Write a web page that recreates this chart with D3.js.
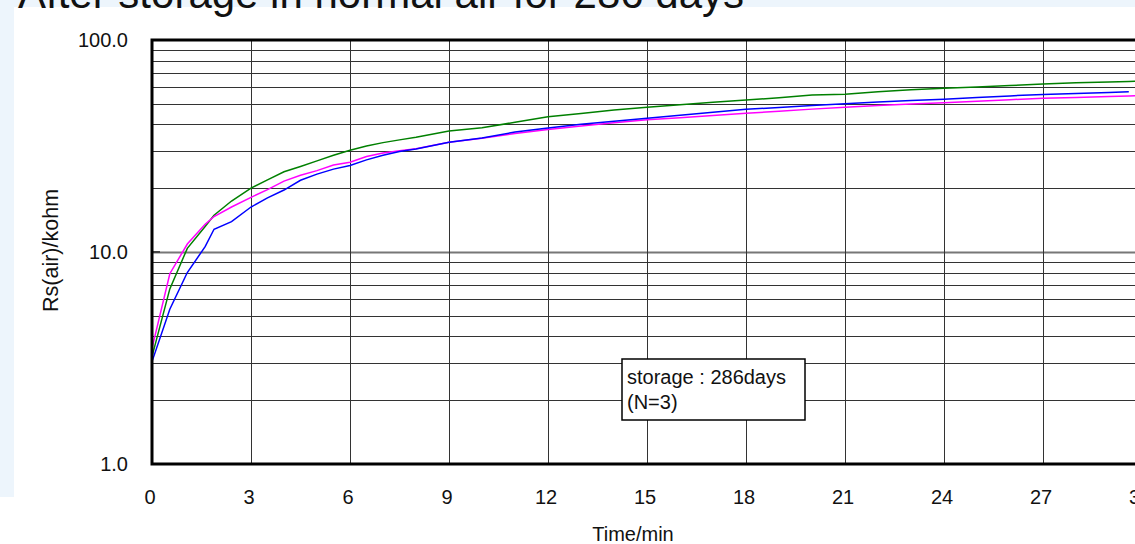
<!DOCTYPE html>
<html><head><meta charset="utf-8">
<script src="https://cdn.jsdelivr.net/npm/d3@7"></script>
<style>html,body{margin:0;padding:0;background:#fff;}svg{display:block;}</style>
</head><body>
<svg id="c" width="1135" height="544"></svg>
<script>
const titleText = "After storage in normal air for 286 days";
const xLabel = "Time/min";
const yLabel = "Rs(air)/kohm";
const legendLines = ["storage : 286days", "(N=3)"];
const xTicks = [0, 3, 6, 9, 12, 15, 18, 21, 24, 27, 30];
const yTicks = [1, 10, 100];
const yTickLabels = ["1.0", "10.0", "100.0"];
const times = [0, 0.54, 1.07, 1.61, 1.88, 2.41, 3, 3.5, 4, 4.5, 5, 5.5, 6, 6.5, 7, 7.5, 8, 9, 10, 11, 12, 13, 14, 15, 16, 17, 18, 19, 20, 21, 22, 23, 24, 25, 26, 27, 28, 29, 29.6, 30.5];
const greenVals = [3.21, 6.7, 10.4, 13.2, 14.9, 17.4, 20.0, 21.9, 23.9, 25.3, 26.9, 28.6, 30.2, 31.6, 32.8, 33.8, 34.8, 37.2, 38.6, 40.9, 43.4, 45.0, 46.7, 48.2, 49.5, 50.8, 52.1, 53.4, 55.0, 55.5, 57.0, 58.2, 59.2, 60.0, 61.0, 62.0, 62.8, 63.4, 63.7, 64.2];
const magentaVals = [3.51, 7.9, 10.9, 13.5, 14.7, 16.3, 18.1, 19.7, 21.6, 23.0, 24.2, 25.7, 26.5, 28.2, 29.3, 30.0, 30.7, 32.9, 34.4, 36.2, 37.8, 39.3, 40.7, 42.0, 43.0, 44.1, 45.1, 46.1, 47.2, 48.2, 49.1, 49.9, 50.6, 51.4, 52.3, 53.1, 53.6, 54.2, 54.5, 54.8];
const blueVals = [3.04, 5.37, 8.0, 10.6, 12.8, 13.9, 16.3, 18.0, 19.6, 21.8, 23.3, 24.6, 25.6, 27.2, 28.6, 29.8, 30.6, 32.9, 34.5, 36.8, 38.5, 40.0, 41.4, 42.7, 44.2, 45.6, 47.1, 48.1, 49.1, 50.1, 51.0, 51.8, 52.5, 53.5, 54.5, 55.4, 56.0, 56.6, 57.0, null];
const seriesColors = ["#008000", "#ff00ff", "#0000ff"];

const svg = d3.select("#c");
const font = "Arial, 'Liberation Sans', sans-serif";

// backgrounds
svg.append("rect").attr("x",0).attr("y",0).attr("width",1135).attr("height",544).attr("fill","#edf5fc");
svg.append("rect").attr("x",14).attr("y",7).attr("width",1121).attr("height",537).attr("fill","#fff");
svg.append("rect").attr("x",0).attr("y",497).attr("width",1135).attr("height",47).attr("fill","#fff");

svg.append("text").attr("x",18).attr("y",8).attr("font-family",font).attr("font-size",42)
  .attr("fill","#111").text(titleText);

const x = d3.scaleLinear().domain([0,30]).range([152,1142]);
const y = d3.scaleLog().domain([1,100]).range([464,40]);

// horizontal grid
const minor = [];
for (let d = 1; d < 100; d *= 10) for (let k = 2; k <= 9; k++) minor.push(k*d);
minor.push(10);
svg.append("g").selectAll("line").data(minor).join("line")
  .attr("x1", x(0)).attr("x2", 1142).attr("y1", d=>Math.round(y(d))+0.5).attr("y2", d=>Math.round(y(d))+0.5)
  .attr("stroke", d => d===10 ? "#777" : "#333").attr("stroke-width", d => d===10 ? 2 : 1);
// vertical grid
svg.append("g").selectAll("line").data(xTicks.filter(t=>t>0)).join("line")
  .attr("x1", d=>Math.round(x(d))+0.5).attr("x2", d=>Math.round(x(d))+0.5).attr("y1", y(100)).attr("y2", y(1))
  .attr("stroke","#333").attr("stroke-width",1);
// small tick at 10
svg.append("line").attr("x1",x(0)).attr("x2",x(0)+8).attr("y1",y(10)).attr("y2",y(10)).attr("stroke","#444").attr("stroke-width",2);

// series
const line = d3.line().defined(d=>d[1]!=null).x(d=>x(d[0])).y(d=>y(d[1]));
[greenVals, magentaVals, blueVals].forEach((vals,i)=>{
  svg.append("path").datum(times.map((t,j)=>[t, vals[j]]))
    .attr("d", line).attr("fill","none").attr("stroke", seriesColors[i]).attr("stroke-width",1.5);
});

// frame
svg.append("path").attr("d", `M${1142},${y(100)}H${x(0)}V${y(1)}H1142`)
  .attr("fill","none").attr("stroke","#000").attr("stroke-width",3);

// tick labels
svg.append("g").selectAll("text").data(xTicks).join("text")
  .attr("x", d=>x(d)-2).attr("y", 504).attr("text-anchor","middle")
  .attr("font-family",font).attr("font-size",20).attr("fill","#111").text(d=>d);
svg.append("g").selectAll("text").data(yTicks).join("text")
  .attr("x", 128).attr("y", d=>y(d)+7).attr("text-anchor","end")
  .attr("font-family",font).attr("font-size",20).attr("fill","#111").text((d,i)=>yTickLabels[i]);

// axis titles
svg.append("text").attr("x",633).attr("y",541).attr("text-anchor","middle")
  .attr("font-family",font).attr("font-size",20).attr("fill","#111").text(xLabel);
svg.append("defs").append("clipPath").attr("id","yc").append("rect").attr("x",0).attr("y",189).attr("width",100).attr("height",200);
svg.append("g").attr("clip-path","url(#yc)").append("text")
  .attr("transform","translate(58,312) rotate(-90)")
  .attr("font-family",font).attr("font-size",21.5).attr("fill","#111").text(yLabel);

// legend
const lg = svg.append("g");
lg.append("rect").attr("x",622).attr("y",359).attr("width",183).attr("height",61)
  .attr("fill","#fff").attr("stroke","#000").attr("stroke-width",1.5);
lg.selectAll("text").data(legendLines).join("text")
  .attr("x",627).attr("y",(d,i)=>384+i*25)
  .attr("font-family",font).attr("font-size",20).attr("fill","#111").text(d=>d);
</script>
</body></html>
